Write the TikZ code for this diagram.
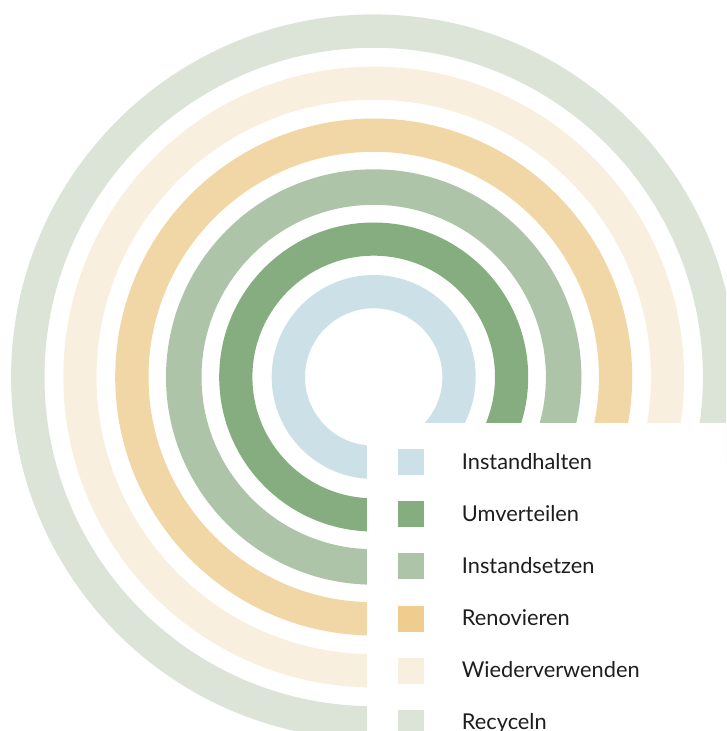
\documentclass[tikz,border=0pt]{standalone}
\usepackage{fontspec}
\setmainfont{Lato}
\definecolor{cBlue}{HTML}{CBE1E7}
\definecolor{cUmv}{HTML}{86AD80}
\definecolor{cSetz}{HTML}{ADC4A8}
\definecolor{cReno}{HTML}{F2D7A6}
\definecolor{cRenoSq}{HTML}{F0CD8E}
\definecolor{cWied}{HTML}{F9EFDF}
\definecolor{cRecy}{HTML}{DCE4D8}
\definecolor{cText}{HTML}{1E1E1E}
\tikzset{
  ringfill/.style={fill=#1, even odd rule},
  legsq/.style={fill=#1, minimum size=26.3pt, inner sep=0pt, draw=none},
  leglab/.style={anchor=base west, text=cText, font=\fontsize{21.8}{24}\selectfont, inner sep=0pt}
}
\begin{document}
\begin{tikzpicture}[x=1pt,y=-1pt]
\useasboundingbox (0,0) rectangle (726,731);
\clip (0,0) rectangle (726,731);
\coordinate (c) at (373.7,377);
\fill[ringfill=cRecy] (c) circle (362.6) circle (329.2);
\fill[ringfill=cWied] (c) circle (310.4) circle (277.2);
\fill[ringfill=cReno] (c) circle (258.5) circle (225.2);
\fill[ringfill=cSetz] (c) circle (207.7) circle (172.2);
\fill[ringfill=cUmv] (c) circle (154.5) circle (121.3);
\fill[ringfill=cBlue] (c) circle (102) circle (68.7);
\fill[white] (367,422.7) rectangle (730,735);
\node[legsq=cBlue]   (sq1) at (411,462.2) {};
\node[legsq=cUmv]    (sq2) at (411,514.2) {};
\node[legsq=cSetz]   (sq3) at (411,566.3) {};
\node[legsq=cRenoSq] (sq4) at (411,618.8) {};
\node[legsq=cWied]   (sq5) at (411,671) {};
\node[legsq=cRecy]   (sq6) at (411,723.2) {};
\node[leglab] (l1) at (461.7,469) {Instandhalten};
\node[leglab] (l2) at (461.7,521) {Umverteilen};
\node[leglab] (l3) at (461.7,573.2) {Instandsetzen};
\node[leglab] (l4) at (461.7,625.5) {Renovieren};
\node[leglab] (l5) at (461.7,677.7) {Wiederverwenden};
\node[leglab] (l6) at (461.7,729.8) {Recyceln};
\end{tikzpicture}
\end{document}
